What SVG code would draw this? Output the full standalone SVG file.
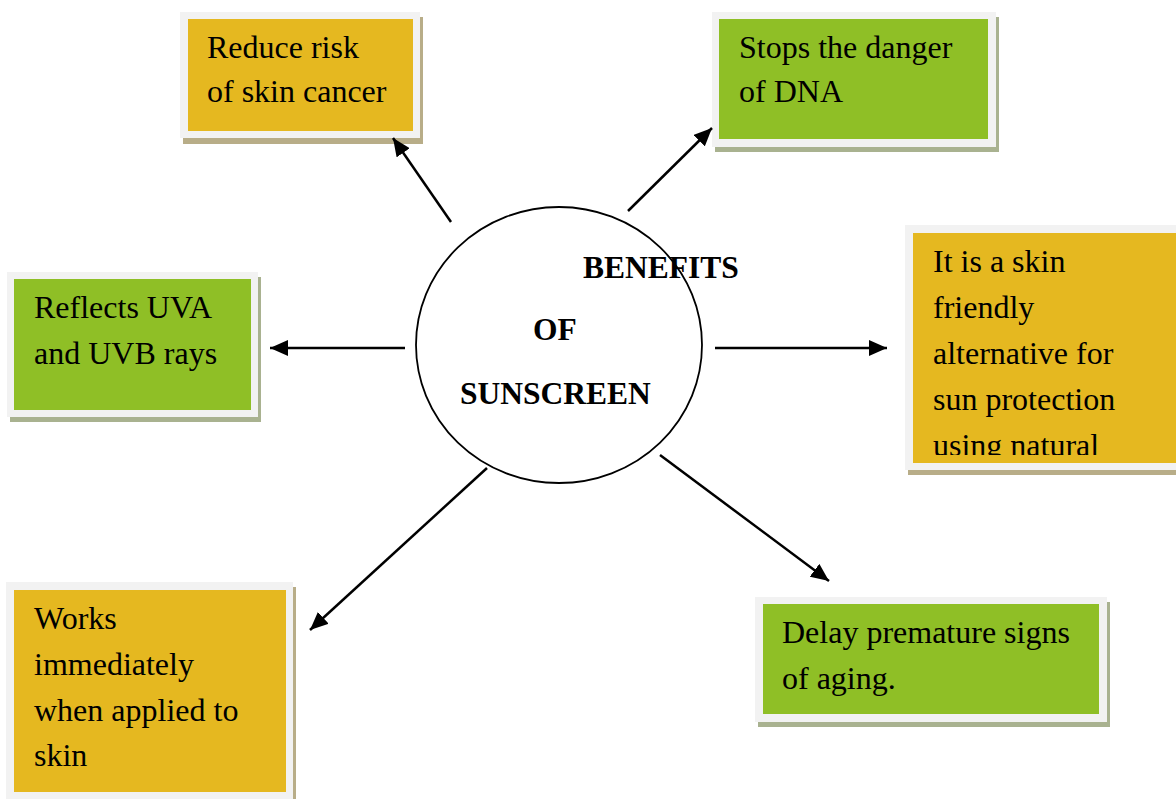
<svg xmlns="http://www.w3.org/2000/svg" width="1176" height="799" viewBox="0 0 1176 799">
<style>
.t{font-family:"Liberation Serif","Times New Roman",serif;font-size:32px;fill:#000}
.b{font-family:"Liberation Serif","Times New Roman",serif;font-size:31.5px;font-weight:bold;fill:#000}
.frame{fill:#f2f2f2}
.sh-o{fill:#b8ad88}
.sh-g{fill:#a9b290}
.orange{fill:#e5b820}
.green{fill:#8fbf26}
.conn{stroke:#000;stroke-width:2.5;fill:none;marker-end:url(#ah)}
</style>
<defs>
<marker id="ah" markerUnits="userSpaceOnUse" markerWidth="20" markerHeight="16" refX="18" refY="8" orient="auto">
<path d="M0,0 L18,8 L0,16 z" fill="#000"/>
</marker>
<clipPath id="clip3"><rect x="913" y="233" width="263" height="222"/></clipPath>
</defs>
<rect width="1176" height="799" fill="#fff"/>

<g id="node-reduce">
<rect class="sh-o" x="183" y="17" width="240" height="127"/>
<rect class="frame" x="180" y="12" width="240" height="126"/>
<rect class="orange" x="188" y="19" width="225" height="112"/>
<text class="t" x="207" y="58">Reduce risk</text>
<text class="t" x="207" y="102">of skin cancer</text>
</g>

<g id="node-dna">
<rect class="sh-g" x="715" y="17" width="284" height="135"/>
<rect class="frame" x="712" y="12" width="284" height="135"/>
<rect class="green" x="719" y="19" width="269" height="120"/>
<text class="t" x="739" y="58">Stops the danger</text>
<text class="t" x="739" y="102">of DNA</text>
</g>

<g id="node-friendly">
<rect class="sh-o" x="908" y="230" width="280" height="245"/>
<rect class="frame" x="905" y="225" width="280" height="245"/>
<rect class="orange" x="913" y="233" width="270" height="230"/>
<g clip-path="url(#clip3)">
<text class="t" x="933" y="272">It is a skin</text>
<text class="t" x="933" y="318">friendly</text>
<text class="t" x="933" y="364">alternative for</text>
<text class="t" x="933" y="410">sun protection</text>
<text class="t" x="933" y="456">using natural</text>
</g>
</g>

<g id="node-reflects">
<rect class="sh-g" x="10" y="277" width="251" height="145"/>
<rect class="frame" x="7" y="272" width="251" height="145"/>
<rect class="green" x="14" y="279" width="237" height="131"/>
<text class="t" x="34" y="318">Reflects UVA</text>
<text class="t" x="34" y="364">and UVB rays</text>
</g>

<g id="node-works">
<rect class="sh-o" x="9" y="587" width="287" height="220"/>
<rect class="frame" x="6" y="582" width="287" height="220"/>
<rect class="orange" x="14" y="590" width="272" height="202"/>
<text class="t" x="34" y="629">Works</text>
<text class="t" x="34" y="675">immediately</text>
<text class="t" x="34" y="721">when applied to</text>
<text class="t" x="34" y="766">skin</text>
</g>

<g id="node-delay">
<rect class="sh-g" x="758" y="602" width="352" height="125"/>
<rect class="frame" x="755" y="597" width="352" height="125"/>
<rect class="green" x="763" y="604" width="336" height="110"/>
<text class="t" x="782" y="643">Delay premature signs</text>
<text class="t" x="782" y="689">of aging.</text>
</g>

<g id="node-center">
<ellipse cx="559" cy="345" rx="143" ry="138" fill="none" stroke="#000" stroke-width="1.8"/>
<text class="b" x="583" y="278">BENEFITS</text>
<text class="b" x="533" y="340">OF</text>
<text class="b" x="460" y="404">SUNSCREEN</text>
</g>

<g id="connectors">
<line class="conn" x1="451" y1="222" x2="393" y2="138"/>
<line class="conn" x1="628" y1="211" x2="712" y2="128"/>
<line class="conn" x1="405" y1="348" x2="270" y2="348"/>
<line class="conn" x1="715" y1="348" x2="887" y2="348"/>
<line class="conn" x1="487" y1="468" x2="310" y2="630"/>
<line class="conn" x1="660" y1="455" x2="829" y2="581"/>
</g>
</svg>
